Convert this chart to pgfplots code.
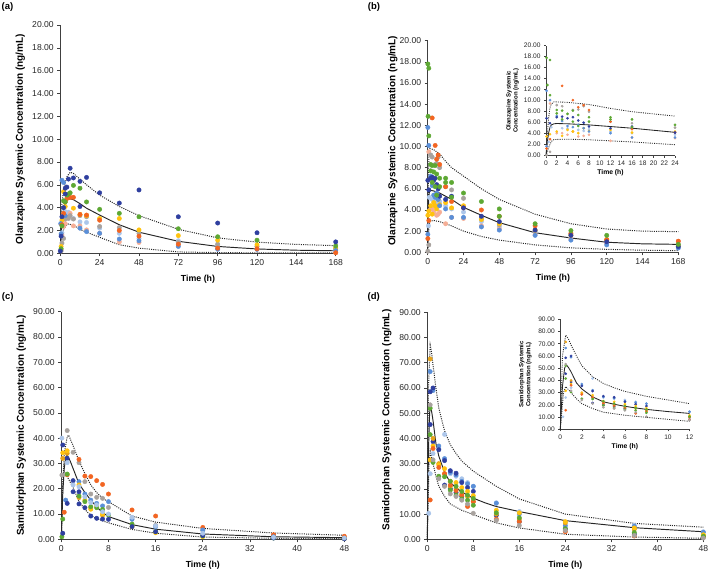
\documentclass[border=0pt]{standalone}
\usepackage{fontspec}
\setmainfont{Liberation Sans}
\usepackage{pgfplots}
\usepackage{pgfplotstable}
\pgfplotsset{compat=1.18}

\definecolor{cDB}{RGB}{47,63,159}
\definecolor{cMB}{RGB}{90,143,216}
\definecolor{cLB}{RGB}{172,198,234}
\definecolor{cGR}{RGB}{93,168,51}
\definecolor{cOR}{RGB}{242,101,34}
\definecolor{cYE}{RGB}{255,194,14}
\definecolor{cAM}{RGB}{229,162,26}
\definecolor{cGY}{RGB}{168,162,158}
\definecolor{cSA}{RGB}{245,174,150}

% ---------------- panel (a) ----------------
\pgfplotstableread{
t c
0 0.2
0.5 1.5
1 3.2
2 4.0
3 5.2
3 5.7
4 5.8
5 6.5
6 7.45
8 6.6
12 6.3
12 4.1
16 6.65
24 5.3
36 4.4
48 5.55
72 3.2
96 2.65
120 1.8
168 1.0
}\aDB
\pgfplotstableread{
t c
0.5 0.4
1 2.4
2 4.6
3 4.5
4 5.1
5 5.2
6 5.3
8 5.95
12 5.7
16 4.5
24 3.85
36 3.5
48 3.2
72 2.15
96 1.45
120 1.15
168 0.65
}\aGR
\pgfplotstableread{
t c
0.5 0.6
1 2.9
2 5.4
3 4.1
5 4.9
8 3.95
12 3.4
16 3.3
24 3.05
36 3.05
48 2.05
72 1.55
96 1.15
120 0.75
168 0.45
}\aYE
\pgfplotstableread{
t c
1 2.5
2 3.5
3 4.5
4 4.8
6 4.9
8 4.9
12 3.4
16 3.35
24 2.9
36 2.0
48 1.5
72 0.8
96 0.45
120 0.4
168 0.05
}\aOR
\pgfplotstableread{
t c
0.25 2.6
0.5 1.7
1 6.4
2 6.2
3 3.3
12 2.2
16 1.9
24 1.75
36 1.25
48 1.1
72 0.6
96 0.35
120 0.35
168 0.25
}\aMB
\pgfplotstableread{
t c
1 1.8
2 3.2
3 3.65
5 3.6
8 3.05
12 2.75
16 2.7
24 2.2
36 1.75
48 1.3
72 1.1
96 0.75
120 0.6
168 0.35
}\aLB
\pgfplotstableread{
t c
0.5 0.2
1 0.9
2 1.3
3 3.0
4 3.1
5 3.05
6 3.3
8 3.0
12 3.3
16 3.2
24 2.35
36 2.25
48 1.75
72 0.95
96 0.8
120 0.6
168 0.45
}\aGY
\pgfplotstableread{
t c
0.5 0.3
1 1.6
2 2.35
3 2.6
4 3.2
6 3.5
8 2.4
12 2.4
16 2.05
24 1.75
36 1.0
48 0.95
72 0.75
96 0.45
120 0.35
168 0.05
}\aSA
\pgfplotstableread{
t c
0 0
0.5 1.5
1 2.7
2 3.9
3 4.4
4 4.65
6 4.78
8 4.7
12 4.35
16 3.95
24 3.35
36 2.5
48 1.85
72 1.05
96 0.6
120 0.38
144 0.27
168 0.22
}\aMean
\pgfplotstableread{
t c
0 0
0.5 2.8
1 4.3
2 5.6
4 6.7
6 7.1
8 7.0
12 6.5
16 6.0
24 5.1
36 4.1
48 3.3
72 2.1
96 1.35
120 0.98
144 0.78
168 0.67
}\aUp
\pgfplotstableread{
t c
0 0
0.5 0.8
1 1.4
2 2.1
4 2.5
5 2.57
8 2.45
12 2.1
16 1.85
24 1.4
36 0.75
48 0.45
72 0.12
96 0.06
120 0.04
168 0.03
}\aLo

% ---------------- panel (b) ----------------
\pgfplotstableread{
t c
0.1 17.8
0.75 17.4
0.25 12.85
0.75 11.0
2 8.3
2 7.7
3 8.2
3 6.6
4 7.6
5 8.2
5 6.2
6 7.4
6 5.4
8 7.0
8 6.2
12 7.0
12 6.6
16 6.6
16 5.2
24 5.6
36 4.8
48 4.1
48 3.4
72 2.7
96 2.05
120 1.6
168 0.75
}\bGR
\pgfplotstableread{
t c
0.1 1.3
0.75 3.0
3 12.7
5 10.1
6 8.8
7 9.2
8 8.3
12 6.2
16 4.8
24 4.2
36 4.0
48 3.4
72 2.5
96 1.8
120 1.2
168 1.05
}\bOR
\pgfplotstableread{
t c
0.1 6.8
0.75 5.9
2 7.0
3 7.1
4 6.8
5 7.0
6 6.4
7 6.0
8 5.3
12 5.0
16 5.3
24 4.2
36 3.4
48 2.9
72 2.1
96 1.6
120 1.0
168 0.55
}\bDB
\pgfplotstableread{
t c
0.1 11.8
0.75 10.1
0.1 1.7
2 7.2
3 6.3
4 5.4
5 5.2
6 5.6
7 5.0
8 4.4
12 4.1
16 3.3
24 3.3
36 2.4
48 2.1
72 1.6
96 1.15
120 0.7
168 0.4
}\bMB
\pgfplotstableread{
t c
0.5 2.5
1 5.2
3 5.0
4 5.0
6 4.7
7 4.5
8 4.8
12 4.4
16 4.1
24 3.8
36 2.9
48 2.4
72 1.9
96 1.4
120 0.9
168 0.5
}\bLB
\pgfplotstableread{
t c
0.1 3.5
0.75 3.9
2 4.4
3 3.6
4 4.7
5 4.4
6 4.1
7 5.0
8 4.5
12 4.7
16 4.2
24 4.4
36 3.1
48 2.7
72 2.1
96 1.6
120 1.2
168 0.55
}\bYE
\pgfplotstableread{
t c
0.1 0.1
0.75 0.7
2 9.2
3 9.0
5 8.3
6 8.4
7 9.0
8 8.0
12 6.2
16 5.9
24 5.1
36 3.2
48 2.6
72 2.0
96 1.7
120 1.1
168 0.7
}\bGY
\pgfplotstableread{
t c
0.75 9.5
2 4.1
3 4.1
4 3.8
5 4.4
6 3.5
7 3.6
8 3.8
12 2.7
16 3.3
24 3.2
36 2.5
48 2.2
72 1.7
96 1.25
120 0.85
168 1.05
}\bSA
\pgfplotstableread{
t c
0 0
0.25 2.5
0.5 4.2
0.75 5.2
1 5.6
1.5 5.8
2 5.85
4 5.8
8 5.6
12 5.3
16 5.0
24 4.25
36 3.5
48 2.8
72 1.85
96 1.35
120 0.95
144 0.8
168 0.75
}\bMean
\pgfplotstableread{
t c
0 0
0.25 4.0
0.5 7.0
0.75 8.8
1 9.4
1.5 9.8
4 9.7
8 9.3
12 8.6
16 8.0
24 7.2
36 6.0
48 5.0
72 3.6
96 2.7
120 2.2
144 2.0
168 1.95
}\bUp
\pgfplotstableread{
t c
0 0
0.5 1.5
1 2.6
1.5 2.95
4 3.0
8 2.9
12 2.7
16 2.5
24 2.0
36 1.5
48 1.15
72 0.7
96 0.42
120 0.28
144 0.2
168 0.15
}\bLo

% ---------------- panel (c) ----------------
\pgfplotstableread{
t c
0.1 25.4
1 43
2 34.4
3 30.3
4 22.8
5 17.9
6 16.6
7 16.2
8 12.6
12 8.5
16 5.5
24 3.5
36 1.5
48 0.8
}\cGY
\pgfplotstableread{
t c
0.5 10.7
1 25.5
3 31.6
4 25
5 24.8
6 23.2
7 21.7
8 17.9
12 11.6
16 9.2
24 4.7
36 1.8
48 1.2
}\cOR
\pgfplotstableread{
t c
0.25 2.4
0.25 37.3
1 32
1 14.2
2 23.2
2 18.8
3 14
3 18.8
4 12.5
5 9.2
6 8.3
7 8
8 7.9
12 5
16 3
24 1.5
36 0.5
48 0.2
}\cDB
\pgfplotstableread{
t c
0.1 40
1 30.3
2 21.5
3 20.8
4 16.8
5 14.5
6 13.6
7 10.9
8 10.0
12 8.7
16 5.3
24 2.4
36 0.8
48 0.5
}\cLB
\pgfplotstableread{
t c
0.75 15.5
3 22.8
4 17.9
5 15.5
6 14.2
7 13.2
8 14.9
12 7.9
16 5.0
24 3.7
36 1.0
48 0.4
}\cMB
\pgfplotstableread{
t c
0.25 34.2
1 35
3 21.5
4 15.5
5 11.9
6 13.2
7 10
12 5
16 2.6
24 1.0
48 0.3
}\cYE
\pgfplotstableread{
t c
0.25 32
1 34
3 16.5
5 12.5
7 9.5
}\cAM
\pgfplotstableread{
t c
0.1 1.0
0.25 8.0
1 25.8
3 17.1
4 14.9
5 12.9
6 12.5
7 11.8
8 9.6
12 6.0
16 3.0
24 1.3
36 0.5
48 0.3
}\cGR
\pgfplotstableread{
t c
0 0
0.25 18
0.5 28
0.75 32.5
1 33.3
1.5 31
2 28
3 22
4 18.5
5 15.5
6 12.8
7 10.6
8 9
12 5.8
16 4.0
24 2.1
36 1.0
48 0.65
}\cMean
\pgfplotstableread{
t c
0 0
0.25 22
0.5 34
1 40.5
1.25 41.2
2 37
3 31
4 26
5 21.5
6 18.5
7 16.2
8 14.9
12 9.2
16 6.8
24 4.3
36 2.5
48 1.6
}\cUp
\pgfplotstableread{
t c
0 0
0.2 20
0.4 25.5
0.8 25.4
1 24.8
2 20.5
3 15
4 11.8
5 9.4
6 8.2
7 7.3
8 6.5
12 3.9
16 2.4
24 0.9
36 0.4
48 0.3
}\cLo

% ---------------- panel (d) ----------------
\pgfplotstableread{
t c
0.5 71.5
1 40
2 30
3 26
4 21
5 20
6 18
7 17
8 15
12 10
16 8
24 6.5
36 4
48 1.5
}\dAM
\pgfplotstableread{
t c
0.5 31.5
1 37
2 29.5
3 28
4 23
5 22.5
6 20.5
7 19
8 17.3
12 11.5
16 10.5
24 7
36 4.5
48 1.8
}\dYE
\pgfplotstableread{
t c
0.5 66.5
1 59
2 37
3 32
4 26.5
5 25.5
6 23
7 22
8 21
12 14.3
16 10
24 5.5
36 5.2
48 2.8
}\dMB
\pgfplotstableread{
t c
0.25 10.3
0.5 26
1 34
2 36
3 41.6
4 26
5 25
6 24
7 22.5
8 21
12 14.5
16 11
24 4.8
36 5.5
48 3.0
}\dLB
\pgfplotstableread{
t c
0.5 58.5
0.5 45.5
1 60
1 38.7
2 35.5
3 31.2
3 21.5
4 27.2
4 20
5 26.2
5 18.5
6 22.5
6 17
7 20.5
8 19
12 9.5
16 7
24 4
36 2
48 1
}\dDB
\pgfplotstableread{
t c
0.5 52
0.5 41.5
1 30.5
2 25
3 24.8
4 23
4 19.5
5 21
5 17.5
6 19
6 16
7 17.5
7 15.5
8 16.2
8 13.5
12 10.5
16 8.5
24 4.2
36 2.7
48 1.2
}\dGR
\pgfplotstableread{
t c
0.5 15.6
1 36
2 28.5
3 26
4 21.5
5 19.3
6 17.5
7 13
8 14.9
12 8
16 7
24 3
36 1.3
48 0.8
}\dOR
\pgfplotstableread{
t c
0.5 53.3
1 31.5
2 24
3 21
4 18
5 17
6 15.5
7 14
8 10.3
12 7.5
16 5.5
24 3.5
36 1.5
48 0.5
}\dGY
\pgfplotstableread{
t c
0 0
0.2 35
0.4 50
0.55 53
0.8 50
1 47
1.5 38
2 33
3 26.5
4 22.5
5 20.5
6 18.8
7 17.5
8 16.3
10 14.5
12 13
16 11
24 7.4
36 4.6
48 3.0
}\dMean
\pgfplotstableread{
t c
0 0
0.2 60
0.5 77
0.75 74
1 69
1.5 60
2 52
3 43
4 37.5
5 34
6 31
8 27
12 21
16 16
24 10
36 6.3
48 4.8
}\dUp
\pgfplotstableread{
t c
0 0
0.3 30
0.5 35
0.8 32
1 30
1.5 25
2 21
3 17
4 14
6 11.5
8 9.8
12 6.5
16 4.5
24 2.0
36 0.9
48 0.4
}\dLo

\pgfplotsset{
  pk/.style={scale only axis, axis lines=left,
    axis line style={-, draw=black!75, line width=0.7pt},
    tick align=outside, major tick length=3pt,
    tick style={draw=black!75, line width=0.6pt},
    xmin=0, ymin=0, enlargelimits=false, clip=false,
    tick label style={font=\fontsize{8.6}{9}\selectfont, text=black!85},
    /pgf/number format/assume math mode=true,
    yticklabel style={/pgf/number format/.cd, fixed, fixed zerofill, precision=2},
    xticklabel style={/pgf/number format/.cd, fixed, precision=0},
    xlabel style={font=\fontsize{8.8}{9}\selectfont\bfseries, at={(axis description cs:0.5,0)}, anchor=center, yshift=-26pt},
    ylabel style={font=\fontsize{10}{11}\selectfont\bfseries, anchor=center},
    xlabel={Time (h)}},
  ins/.style={pk, major tick length=2pt,
    tick label style={font=\fontsize{6.6}{7}\selectfont, text=black!85},
    xlabel style={font=\fontsize{6.8}{7}\selectfont\bfseries, yshift=8.5pt},
    ylabel style={font=\fontsize{6}{7}\selectfont\bfseries, align=center, anchor=center}},
  pts/.style={only marks, mark=*, mark size=2.2pt},
  ipts/.style={only marks, mark=*, mark size=1.15pt},
  mean/.style={no marks, draw=black!85, line width=0.95pt},
  pct/.style={no marks, draw=black!85, line width=1pt, dash pattern=on 1pt off 1.2pt},
}

\begin{document}
\begin{tikzpicture}
% ===== (a) =====
\begin{axis}[pk, at={(60.3pt,319.7pt)}, anchor=south west, width=275.4pt, height=228.3pt,
  xmax=168, ymax=20, xtick={0,24,...,168}, ytick={0,2,...,20},
  ylabel={Olanzapine Systemic Concentration (ng/mL)},
  ylabel style={at={(axis description cs:-0.1452,0.5)}}]
\addplot[pts, cLB] table[x=t,y=c] {\aLB};
\addplot[pts, cSA] table[x=t,y=c] {\aSA};
\addplot[pts, cGY] table[x=t,y=c] {\aGY};
\addplot[pts, cYE] table[x=t,y=c] {\aYE};
\addplot[pts, cMB] table[x=t,y=c] {\aMB};
\addplot[pts, cOR] table[x=t,y=c] {\aOR};
\addplot[pts, cGR] table[x=t,y=c] {\aGR};
\addplot[pts, cDB] table[x=t,y=c] {\aDB};
\addplot[pct] table[x=t,y=c] {\aUp};
\addplot[pct] table[x=t,y=c] {\aLo};
\addplot[mean] table[x=t,y=c] {\aMean};
\end{axis}
% ===== (b) =====
\begin{axis}[pk, at={(427.7pt,320.7pt)}, anchor=south west, width=250.6pt, height=211.6pt,
  xmax=168, ymax=20, xtick={0,24,...,168}, ytick={0,2,...,20},
  ylabel={Olanzapine Systemic Concentration (ng/mL)},
  ylabel style={at={(axis description cs:-0.1397,0.527)}}]
\addplot[pts, cLB] table[x=t,y=c] {\bLB};
\addplot[pts, cSA] table[x=t,y=c] {\bSA};
\addplot[pts, cGY] table[x=t,y=c] {\bGY};
\addplot[pts, cYE] table[x=t,y=c] {\bYE};
\addplot[pts, cMB] table[x=t,y=c] {\bMB};
\addplot[pts, cOR] table[x=t,y=c] {\bOR};
\addplot[pts, cDB] table[x=t,y=c] {\bDB};
\addplot[pts, cGR] table[x=t,y=c] {\bGR};
\addplot[pct] table[x=t,y=c] {\bUp};
\addplot[pct] table[x=t,y=c] {\bLo};
\addplot[mean] table[x=t,y=c] {\bMean};
\end{axis}
% ===== (b) inset =====
\begin{axis}[ins, at={(546pt,417.3pt)}, anchor=south west, width=129pt, height=110pt,
  xmax=24, ymax=20, xtick={0,2,...,24}, ytick={0,2,...,20},
  restrict x to domain=0:24,
  ylabel={Olanzapine Systemic\\Concentration (ng/mL)},
  ylabel style={at={(axis description cs:-0.259,0.5)}}]
\addplot[ipts, cLB] table[x=t,y=c] {\bLB};
\addplot[ipts, cSA] table[x=t,y=c] {\bSA};
\addplot[ipts, cGY] table[x=t,y=c] {\bGY};
\addplot[ipts, cYE] table[x=t,y=c] {\bYE};
\addplot[ipts, cMB] table[x=t,y=c] {\bMB};
\addplot[ipts, cOR] table[x=t,y=c] {\bOR};
\addplot[ipts, cDB] table[x=t,y=c] {\bDB};
\addplot[ipts, cGR] table[x=t,y=c] {\bGR};
\addplot[pct, line width=0.85pt] table[x=t,y=c] {\bUp};
\addplot[pct, line width=0.85pt] table[x=t,y=c] {\bLo};
\addplot[mean, line width=0.85pt] table[x=t,y=c] {\bMean};
\end{axis}
% ===== (c) =====
\begin{axis}[pk, at={(61.3pt,33.7pt)}, anchor=south west, width=283pt, height=227.6pt,
  xmax=48, ymax=90, xtick={0,8,...,48}, ytick={0,10,...,90},
  ylabel={Samidorphan Systemic Concentration (ng/mL)},
  ylabel style={at={(axis description cs:-0.1413,0.5)}}]
\addplot[pts, cGY] table[x=t,y=c] {\cGY};
\addplot[pts, cOR] table[x=t,y=c] {\cOR};
\addplot[pts, cMB] table[x=t,y=c] {\cMB};
\addplot[pts, cAM] table[x=t,y=c] {\cAM};
\addplot[pts, cYE] table[x=t,y=c] {\cYE};
\addplot[pts, cGR] table[x=t,y=c] {\cGR};
\addplot[pts, cDB] table[x=t,y=c] {\cDB};
\addplot[pts, cLB] table[x=t,y=c] {\cLB};
\addplot[pct] table[x=t,y=c] {\cUp};
\addplot[pct] table[x=t,y=c] {\cLo};
\addplot[mean] table[x=t,y=c] {\cMean};
\end{axis}
% ===== (d) =====
\begin{axis}[pk, at={(427.3pt,33.7pt)}, anchor=south west, width=276pt, height=227pt,
  xmax=48, ymax=90, xtick={0,8,...,48}, ytick={0,10,...,90},
  ylabel={Samidorphan Systemic Concentration (ng/mL)},
  ylabel style={at={(axis description cs:-0.147,0.526)}}]
\addplot[pts, cLB] table[x=t,y=c] {\dLB};
\addplot[pts, cMB] table[x=t,y=c] {\dMB};
\addplot[pts, cDB] table[x=t,y=c] {\dDB};
\addplot[pts, cAM] table[x=t,y=c] {\dAM};
\addplot[pts, cYE] table[x=t,y=c] {\dYE};
\addplot[pts, cOR] table[x=t,y=c] {\dOR};
\addplot[pts, cGR] table[x=t,y=c] {\dGR};
\addplot[pts, cGY] table[x=t,y=c] {\dGY};
\addplot[pct] table[x=t,y=c] {\dUp};
\addplot[pct] table[x=t,y=c] {\dLo};
\addplot[mean] table[x=t,y=c] {\dMean};
\end{axis}
% ===== (d) inset =====
\begin{axis}[ins, at={(560.3pt,143.7pt)}, anchor=south west, width=129.2pt, height=110pt,
  xmax=12, ymax=90, xtick={0,2,...,12}, ytick={0,10,...,90},
  restrict x to domain=0:12,
  ylabel={Samidorphan Systemic\\Concentration (ng/mL)},
  ylabel style={at={(axis description cs:-0.271,0.5)}}]
\addplot[ipts, cLB] table[x=t,y=c] {\dLB};
\addplot[ipts, cMB] table[x=t,y=c] {\dMB};
\addplot[ipts, cDB] table[x=t,y=c] {\dDB};
\addplot[ipts, cAM] table[x=t,y=c] {\dAM};
\addplot[ipts, cYE] table[x=t,y=c] {\dYE};
\addplot[ipts, cOR] table[x=t,y=c] {\dOR};
\addplot[ipts, cGR] table[x=t,y=c] {\dGR};
\addplot[ipts, cGY] table[x=t,y=c] {\dGY};
\addplot[pct, line width=0.85pt] table[x=t,y=c] {\dUp};
\addplot[pct, line width=0.85pt] table[x=t,y=c] {\dLo};
\addplot[mean, line width=0.85pt] table[x=t,y=c] {\dMean};
\end{axis}
% panel letters
\node[font=\fontsize{9.5}{10}\selectfont\bfseries] at (7.5pt,566pt) {(a)};
\node[font=\fontsize{9.5}{10}\selectfont\bfseries] at (374pt,566.3pt) {(b)};
\node[font=\fontsize{9.5}{10}\selectfont\bfseries] at (7.8pt,276.3pt) {(c)};
\node[font=\fontsize{9.5}{10}\selectfont\bfseries] at (373.7pt,276pt) {(d)};
\pgfresetboundingbox
\path (0pt,0pt) rectangle (709pt,573pt);
\end{tikzpicture}
\end{document}
